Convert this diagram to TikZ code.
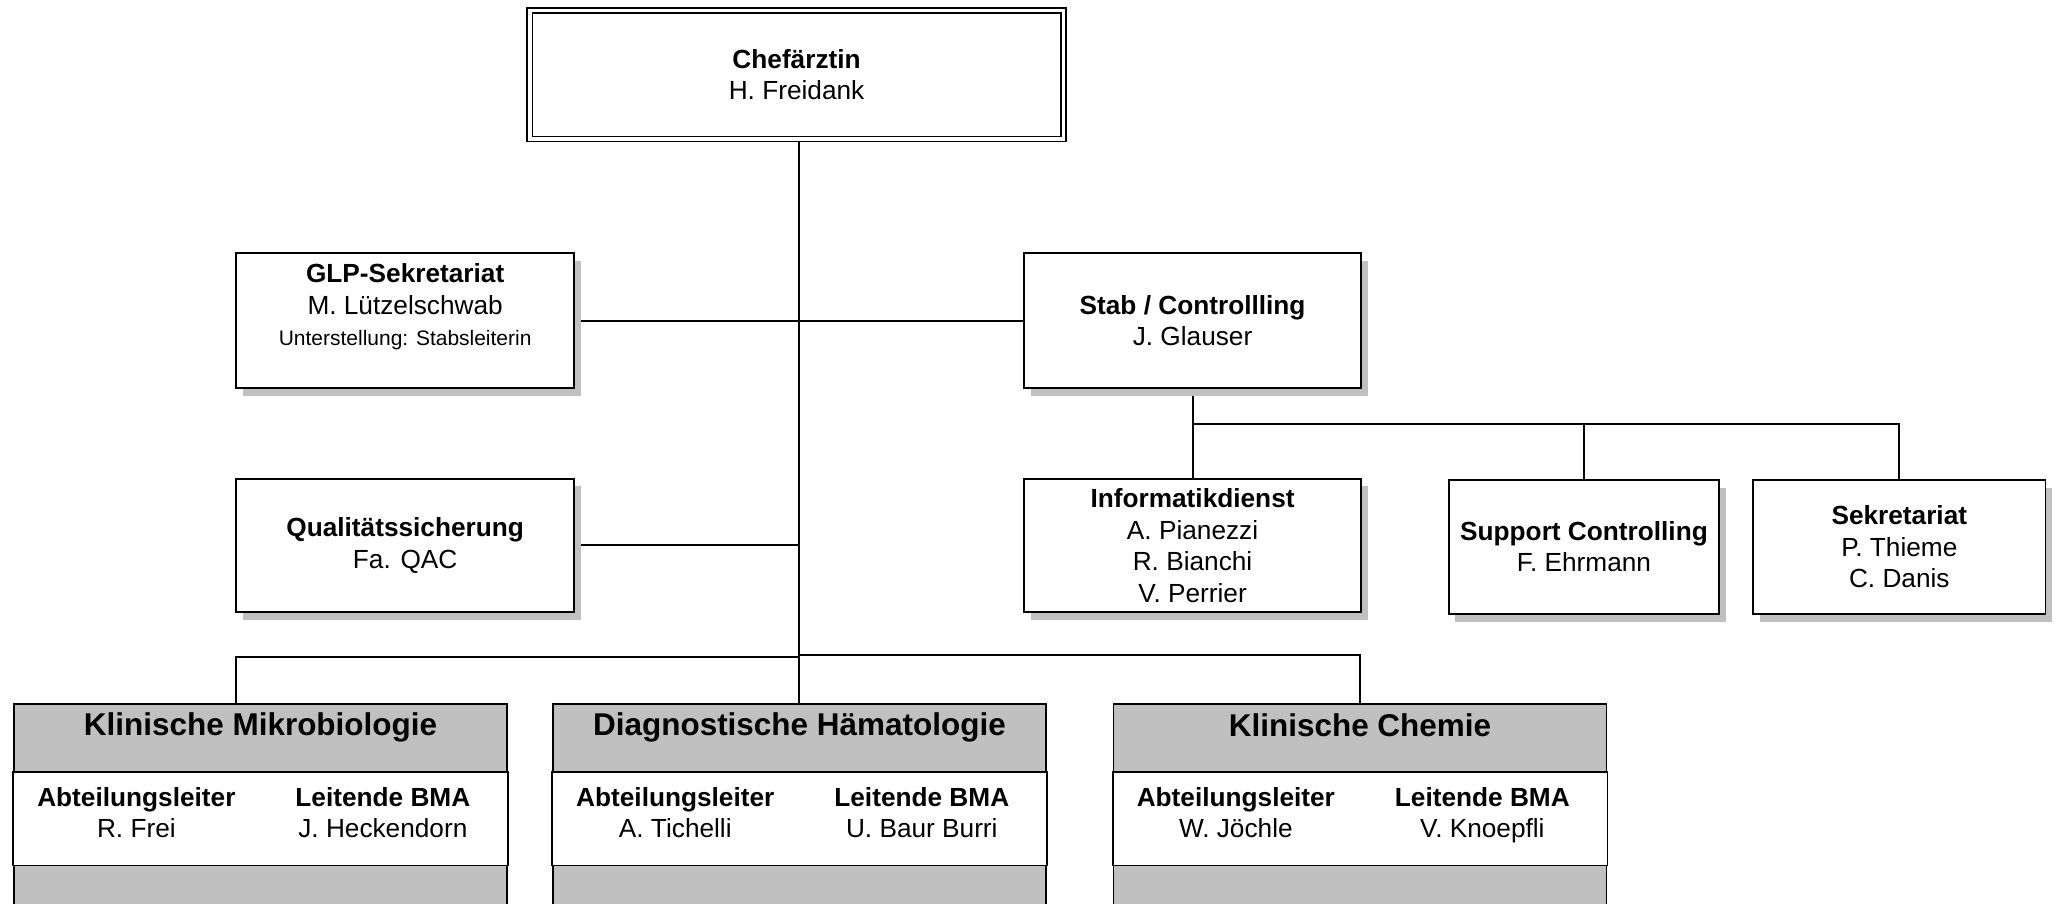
\documentclass[tikz,border=0pt]{standalone}
\usepackage{fontspec}
\setmainfont{Liberation Sans}
\usetikzlibrary{shadows,calc}
\definecolor{hdrgray}{RGB}{192,192,192}
\definecolor{shd}{RGB}{192,192,192}
\pgfdeclarelayer{bg}
\pgfsetlayers{bg,main}
\begin{document}
\begin{tikzpicture}[x=1pt,y=-1pt,
  orgbox/.style={draw, line width=1.4pt, fill=white, inner sep=0pt, align=center,
    font=\fontsize{20}{24}\selectfont,
    general shadow={fill=shd, shadow xshift=5pt, shadow yshift=-6pt}},
  chefbox/.style={draw, line width=1.3pt, double, double distance=2.7pt, inner sep=0pt,
    align=center, font=\fontsize{20}{24}\selectfont,
    minimum width=407pt, minimum height=98pt},
  dept/.style={draw, line width=1.4pt, fill=hdrgray, inner sep=0pt,
    minimum width=376pt, minimum height=170pt, anchor=north west},
  band/.style={draw, line width=1.4pt, fill=white},
  hdrtxt/.style={inner sep=0pt, font=\fontsize{24}{28}\selectfont\bfseries},
  coltxt/.style={inner sep=0pt, align=center, font=\fontsize{20}{24}\selectfont},
  conn/.style={draw, line width=1.5pt}
]
\useasboundingbox (0,0) rectangle (1568,689);
\clip (0,0) rectangle (1568,689);

% top
\node[chefbox] (chef) at (607.5,57) {\textbf{Chefärztin}\\H. Freidank};

% staff
\node[orgbox, minimum width=258pt, minimum height=103pt] (glp) at (309,244.5)
  {\textbf{GLP-Sekretariat}\\M. Lützelschwab\\{\fontsize{16}{22}\selectfont Unterstellung: Stabsleiterin}\\\mbox{}};
\node[orgbox, minimum width=257pt, minimum height=103pt] (stab) at (909.5,244.5)
  {\textbf{Stab / Controllling}\\J. Glauser};
\node[orgbox, minimum width=258pt, minimum height=102pt] (qual) at (309,416)
  {\textbf{Qualitätssicherung}\\Fa. QAC};

% stab children
\node[orgbox, minimum width=257pt, minimum height=102pt] (inf) at (909.5,416)
  {\textbf{Informatikdienst}\\A. Pianezzi\\R. Bianchi\\V. Perrier};
\node[orgbox, minimum width=206pt, minimum height=102pt] (sup) at (1208,417)
  {\textbf{Support Controlling}\\F. Ehrmann};
\node[orgbox, minimum width=223pt, minimum height=102pt] (sek) at (1448.5,417)
  {\textbf{Sekretariat}\\P. Thieme\\C. Danis};

% departments
\node[dept] (mik) at (10,536) {};
\node[dept] (dia) at (421,536) {};
\node[dept] (che) at (848.5,536) {};

\draw[band] ($(mik.north west)+(0,53)$) rectangle ($(mik.north east)+(0,124)$);
\draw[band] ($(dia.north west)+(0,53)$) rectangle ($(dia.north east)+(0,124)$);
\draw[band] ($(che.north west)+(0,53)$) rectangle ($(che.north east)+(0,124)$);

\node[hdrtxt] (mikH) at ($(mik.north)+(0,19)$) {\strut Klinische Mikrobiologie};
\node[hdrtxt] (diaH) at ($(dia.north)+(0,19)$) {\strut Diagnostische Hämatologie};
\node[hdrtxt] (cheH) at ($(che.north)+(0,20)$) {\strut Klinische Chemie};

\node[coltxt] (mikA) at ($(mik.north west)+(94,86)$) {\strut\textbf{Abteilungsleiter}\\\strut R. Frei};
\node[coltxt] (mikB) at ($(mik.north west)+(282,86)$) {\strut\textbf{Leitende BMA}\\\strut J. Heckendorn};
\node[coltxt] (diaA) at ($(dia.north west)+(94,86)$) {\strut\textbf{Abteilungsleiter}\\\strut A. Tichelli};
\node[coltxt] (diaB) at ($(dia.north west)+(282,86)$) {\strut\textbf{Leitende BMA}\\\strut U. Baur Burri};
\node[coltxt] (cheA) at ($(che.north west)+(94,86)$) {\strut\textbf{Abteilungsleiter}\\\strut W. Jöchle};
\node[coltxt] (cheB) at ($(che.north west)+(282,86)$) {\strut\textbf{Leitende BMA}\\\strut V. Knoepfli};

% connectors
\coordinate (sj) at ($(stab.south)+(0,27)$);
\coordinate (bjL) at (609.5,501);
\coordinate (bjR) at (609.5,499.5);
\coordinate (mikc) at ($(mik.north west)+(170,0)$);
\begin{pgfonlayer}{bg}
\draw[conn] (chef.south -| dia.north) -- (dia.north);
\draw[conn] (glp.east) -- (stab.west);
\draw[conn] (qual.east) -- (qual.east -| dia.north);
\draw[conn] (stab.south) -- (inf.north);
\draw[conn] (sj) -| (sup.north);
\draw[conn] (sj) -| (sek.north);
\draw[conn] (mikc) |- (bjL);
\draw[conn] (che.north) |- (bjR);
\end{pgfonlayer}
\end{tikzpicture}
\end{document}
